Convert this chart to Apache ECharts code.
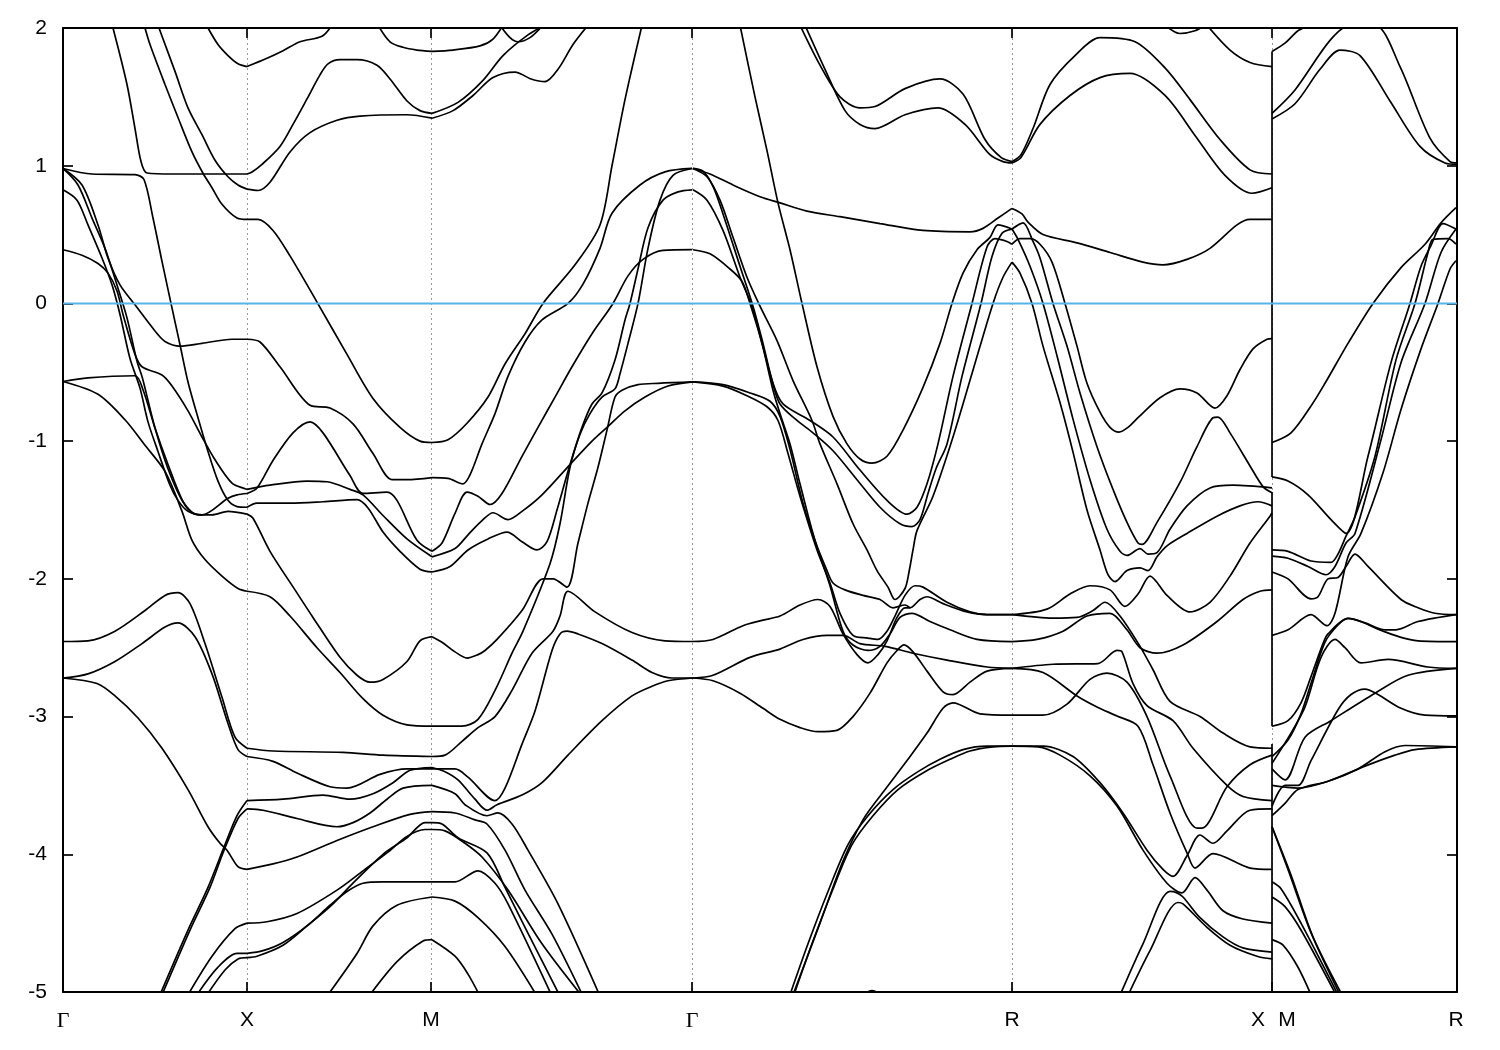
<!DOCTYPE html>
<html><head><meta charset="utf-8">
<script src="https://cdn.jsdelivr.net/npm/echarts@6/dist/echarts.min.js"></script>
<style>html,body{margin:0;background:#fff}#c{width:1500px;height:1050px}</style></head>
<body><div id="c"></div>
<script>
// each band: flat list k, E, k, E ... (k = distance along the k-path, E = energy in eV)
const tickK = [0,184,368,629,949,1209,1394];
const labelK = [0,184,368,629,949,1195,1224,1393];
const tickLabels = ['Γ','X','M','Γ','R','X','M','R'];
const yTicks = [-5,-4,-3,-2,-1,0,1,2];
const fermi = [0,0,1394,0];
const jumpA = [1209,1.83,1209,-1.26];
const jumpB = [1209,-1.37,1209,-3.07];
const jumpC = [1209,-3.2,1209,-5];

const gammaX = [
[145,2,155,1.88,165,1.8,175,1.74,184,1.72],
[50,2,64,1.59,72,1.27,78,1.03,84,.947,110,.94,184,.94],
[0,.98,29,.94,72,.935,81,.9,90,.62,99,.305,108,0,117,-.3,125,-.57,135,-.83,145,-1.075,155,-1.29,165,-1.43,174,-1.475,184,-1.48],
[82,2,87,1.88,102,1.59,115,1.35,129,1.1,140,.945,149,.84,159,.72,174,.62,184,.61],
[96,2,112,1.685,125,1.42,139,1.225,152,1.04,165,.92,175,.86,184,.83],
[0,.98,19,.86,35,.57,45,.33,57,.135,72,-.01,92,-.2,102,-.276,117,-.31,139,-.29,169,-.26,184,-.26],
[0,.39,19,.35,35,.29,45,.22,54,.09,60,-.08,72,-.37,79,-.46,99,-.52,109,-.6,125,-.78,139,-.97,152,-1.135,169,-1.305,182,-1.346,184,-1.35],
[0,.98,15,.86,29,.62,42,.4,55,.11,64,-.105,74,-.42,79,-.53,82,-.615,92,-.905,105,-1.2,120,-1.44,135,-1.535,149,-1.535,165,-1.51,184,-1.53],
[0,.825,14,.75,25,.57,39,.33,49,.135,57,-.08,67,-.4,77,-.615,85,-.86,95,-1.075,107,-1.32,115,-1.43,125,-1.51,139,-1.535,165,-1.415,174,-1.39,184,-1.38],
[0,-.567,25,-.54,72,-.525,80,-.627,92,-.905,105,-1.17,120,-1.44,129,-1.52,139,-1.535],
[0,-.567,35,-.66,62,-.845,82,-1.03,102,-1.22,119,-1.51,129,-1.72,142,-1.86,159,-1.98,175,-2.07,184,-2.09],
[0,-2.455,25,-2.45,52,-2.38,82,-2.23,102,-2.12,115,-2.1,127,-2.18,142,-2.47,159,-2.86,172,-3.15,184,-3.23],
[0,-2.72,25,-2.69,52,-2.6,79,-2.47,102,-2.35,115,-2.32,132,-2.42,149,-2.69,165,-3.05,175,-3.24,184,-3.29],
[0,-2.72,34,-2.76,52,-2.85,75,-3.01,99,-3.23,125,-3.53,145,-3.8,157,-3.92,164,-3.97,175,-4.09,184,-4.11],
[97,-5.02,125,-4.55,145,-4.24,162,-3.93,174,-3.72,184,-3.61],
[99,-5.02,127,-4.55,147,-4.24,160,-3.99,175,-3.74,184,-3.67],
[125,-5.02,149,-4.74,172,-4.54,184,-4.5],
[134,-5.02,155,-4.82,174,-4.72,184,-4.72],
[144,-5.02,162,-4.84,175,-4.76,184,-4.75]
];

const xM = [
[184,1.72,204,1.78,220,1.835,237,1.9,259,1.94,269,2.02],
[315,2.02,327,1.9,340,1.86,354,1.84,369,1.83],
[184,.94,189,.955,199,1.01,217,1.14,230,1.3,244,1.485,257,1.66,265,1.74,277,1.77,294,1.77,314,1.73,327,1.63,344,1.47,357,1.4,369,1.38],
[184,.83,195,.82,207,.88,227,1.1,247,1.24,274,1.33,297,1.36,344,1.37,369,1.345],
[184,.61,195,.61,210,.53,227,.345,254,.01,284,-.37,310,-.69,337,-.9,357,-1,369,-1.01],
[184,-.26,197,-.28,217,-.46,247,-.74,267,-.76,290,-.875,310,-1.09,329,-1.28,344,-1.28,369,-1.265],
[184,-1.38,194,-1.34,210,-1.14,230,-.94,247,-.86,260,-.94,287,-1.25,300,-1.38,324,-1.37,334,-1.43,354,-1.72,369,-1.8],
[184,-1.35,207,-1.32,244,-1.29,264,-1.295,287,-1.35,300,-1.39,320,-1.54,344,-1.71,369,-1.84],
[184,-1.48,194,-1.45,227,-1.45,260,-1.44,294,-1.425,305,-1.485,320,-1.66,337,-1.8,357,-1.93,369,-1.95],
[184,-1.53,190,-1.56,207,-1.8,232,-2.08,250,-2.28,277,-2.57,294,-2.7,307,-2.75,320,-2.73,344,-2.6,357,-2.45,369,-2.42],
[184,-2.09,207,-2.13,227,-2.27,254,-2.5,277,-2.68,300,-2.87,320,-2.99,344,-3.06,369,-3.07],
[184,-3.23,210,-3.25,280,-3.26,320,-3.28,369,-3.29],
[184,-3.29,210,-3.325,234,-3.41,267,-3.51,284,-3.52,317,-3.42,344,-3.38,369,-3.38],
[184,-3.61,220,-3.6,260,-3.57,287,-3.6,310,-3.56,330,-3.48,347,-3.39,369,-3.37],
[184,-3.67,200,-3.68,234,-3.74,274,-3.8,290,-3.77,307,-3.7,324,-3.6,340,-3.52,369,-3.5],
[184,-4.11,210,-4.07,234,-4.02,274,-3.9,310,-3.8,347,-3.71,369,-3.69],
[184,-4.5,204,-4.49,234,-4.43,274,-4.26,300,-4.12,324,-3.99,344,-3.87,362,-3.82,369,-3.82],
[184,-4.72,200,-4.7,220,-4.64,244,-4.52,267,-4.37,284,-4.27,300,-4.21,320,-4.2,369,-4.2],
[184,-4.75,194,-4.74,220,-4.66,244,-4.52,267,-4.38,290,-4.21,320,-4,344,-3.88,362,-3.77,369,-3.77],
[265,-5.02,294,-4.72,310,-4.52,334,-4.37,369,-4.31],
[307,-5.02,334,-4.78,360,-4.63,369,-4.62]
];

const mGamma = [
[369,1.83,390,1.84,417,1.87,430,1.92,440,2.02],
[437,2.02,447,1.93,455,1.9,467,1.93,480,2.02],
[369,1.38,395,1.46,420,1.62,440,1.8,465,1.95,482,2.02],
[369,1.345,390,1.4,410,1.51,430,1.64,452,1.68,468,1.63,482,1.61,495,1.7,510,1.88,525,2.02],
[369,-1.01,385,-.99,404,-.87,425,-.68,442,-.44,462,-.22,480,0,512,.28,537,.57,549,1,562,1.48,579,2.02],
[369,-1.265,385,-1.27,400,-1.31,407,-1.245,419,-1.02,432,-.8,445,-.53,462,-.28,479,-.12,505,0,520,.14,537,.4,549,.655,577,.86,602,.955,629,.98],
[369,-1.8,379,-1.74,392,-1.525,404,-1.37,415,-1.4,427,-1.46,439,-1.38,459,-1.11,475,-.9,492,-.68,509,-.46,529,-.22,550,0,565,.2,580,.32,600,.385,629,.39],
[369,-1.84,392,-1.78,405,-1.68,420,-1.57,430,-1.52,445,-1.57,459,-1.51,479,-1.39,507,-1.17,529,-1,544,-.9,562,-.78,582,-.68,605,-.6,630,-.57],
[369,-1.95,387,-1.91,405,-1.79,425,-1.71,444,-1.66,459,-1.73,474,-1.79,484,-1.73,494,-1.5,507,-1.17,519,-.9,529,-.73,539,-.65,552,-.41,562,-.12,567,0,575,.25,585,.55,600,.75,615,.81,629,.825],
[369,-3.07,399,-3.07,415,-3.02,432,-2.81,449,-2.54,460,-2.38,487,-1.89,497,-1.6,507,-1.19,517,-.95,527,-.8,539,-.68,552,-.62,557,-.51,565,-.29,575,0,585,.4,597,.75,610,.93,629,.98],
[369,-2.42,379,-2.46,392,-2.53,404,-2.575,415,-2.55,422,-2.52,434,-2.44,459,-2.23,480,-2,490,-2,504,-2.06,515,-1.74,525,-1.45,535,-1.19,544,-.92,552,-.68,559,-.63,575,-.59,595,-.58,630,-.57],
[369,-3.29,382,-3.28,399,-3.18,415,-3.08,432,-3,449,-2.81,469,-2.54,490,-2.38,497,-2.27,505,-2.09,532,-2.24,569,-2.39,602,-2.45,629,-2.455],
[369,-3.38,392,-3.38,405,-3.44,432,-3.61,442,-3.52,459,-3.2,472,-2.96,489,-2.52,497,-2.4,504,-2.38,515,-2.4,539,-2.47,569,-2.59,589,-2.68,609,-2.72,630,-2.72],
[369,-3.37,382,-3.4,395,-3.46,412,-3.6,424,-3.68,434,-3.64,459,-3.57,479,-3.48,505,-3.28,539,-3.03,569,-2.85,589,-2.78,605,-2.74,630,-2.72],
[369,-3.5,392,-3.56,402,-3.64,424,-3.72,435,-3.7,449,-3.78,465,-3.97,495,-4.36,537,-5.03],
[369,-3.69,392,-3.7,412,-3.75,424,-3.78,442,-3.97,462,-4.26,489,-4.58,520,-5.03],
[369,-3.77,379,-3.78,395,-3.88,424,-3.99,442,-4.24,462,-4.53,497,-5.03],
[369,-3.82,382,-3.83,402,-3.92,419,-4.02,445,-4.26,479,-4.65,519,-5.03],
[369,-4.2,392,-4.2,415,-4.12,432,-4.21,445,-4.36,489,-5.03],
[369,-4.31,392,-4.34,415,-4.46,442,-4.67,474,-5.03],
[369,-4.62,392,-4.74,405,-4.87,417,-5.03]
];

const gammaR = [
[677,2.02,692,1.5,704,1.11,715,.73,727,.39,739,0,754,-.46,770,-.82,784,-1.02,797,-1.13,809,-1.16,824,-1.11,840,-.92,860,-.61,877,-.29,889,0,900,.22,914,.39,927,.48,935,.57,949,.54],
[630,.98,647,.94,670,.86,697,.775,717,.73,744,.67,777,.63,817,.58,860,.53,907,.52,920,.545,935,.62,949,.69],
[630,.98,644,.92,657,.75,670,.48,684,.19,697,-.02,714,-.27,730,-.56,749,-.85,757,-1.02,774,-1.31,790,-1.6,804,-1.79,814,-1.94,825,-2.06,832,-2.15,842,-2.07,846,-1.95,850,-1.79,854,-1.65,870,-1.4,890,-.97,911,-.46,930,0,940,.19,949,.3],
[630,.98,640,.96,650,.85,660,.65,677,.27,690,-.02,700,-.29,710,-.58,720,-.73,747,-.85,770,-.97,797,-1.21,824,-1.43,844,-1.53,854,-1.48,864,-1.31,875,-1.02,890,-.53,909,0,924,.41,932,.47,944,.45,949,.43],
[630,.825,644,.75,660,.53,677,.19,689,-.02,699,-.29,709,-.56,717,-.73,734,-.85,750,-.94,770,-1.07,794,-1.28,817,-1.48,837,-1.6,849,-1.62,857,-1.57,865,-1.38,873,-1.2,884,-1.02,899,-.53,918,0,929,.34,939,.51,949,.54],
[630,.39,647,.36,667,.25,679,.16,687,0,699,-.29,710,-.63,717,-.8,727,-1.02,737,-1.31,752,-1.72,764,-1.94,770,-2.03,782,-2.08,800,-2.12,817,-2.15,830,-2.21,842,-2.19,847,-2.21],
[630,-.57,660,-.59,687,-.65,707,-.71,717,-.82,727,-1.06,740,-1.45,755,-1.79,767,-2.05,780,-2.38,790,-2.48,805,-2.52,817,-2.49,827,-2.4,837,-2.28,849,-2.25,867,-2.31,887,-2.37,914,-2.44,949,-2.456],
[630,-.57,660,-.6,684,-.67,704,-.75,715,-.85,725,-1.09,737,-1.4,754,-1.79,767,-2.03,777,-2.25,790,-2.41,805,-2.43,815,-2.44,824,-2.38,832,-2.27,842,-2.12,852,-2.05,860,-2.06,884,-2.17,907,-2.24,924,-2.26,949,-2.26],
[629,-2.455,650,-2.44,680,-2.34,700,-2.3,717,-2.27,737,-2.19,755,-2.15,767,-2.2,780,-2.4,794,-2.55,805,-2.61,815,-2.55,824,-2.45,834,-2.28,842,-2.21,847,-2.21,857,-2.15,864,-2.13,880,-2.18,904,-2.24,924,-2.26,949,-2.26],
[630,-2.72,650,-2.7,687,-2.57,717,-2.51,740,-2.44,764,-2.41,780,-2.41,797,-2.47,822,-2.49,850,-2.54,884,-2.59,924,-2.64,949,-2.65],
[630,-2.72,650,-2.74,677,-2.83,700,-2.94,717,-3.02,737,-3.08,755,-3.11,774,-3.1,790,-3,807,-2.83,824,-2.61,834,-2.52,841,-2.48,850,-2.53,864,-2.67,880,-2.82,890,-2.84,907,-2.75,924,-2.67,949,-2.65],
[730,-5.02,757,-4.5,780,-4.05,800,-3.75,820,-3.55,845,-3.31,864,-3.12,880,-2.94,890,-2.9,917,-2.98,949,-2.99],
[727,-5.02,745,-4.65,765,-4.27,785,-3.93,805,-3.72,830,-3.53,855,-3.4,877,-3.31,900,-3.24,924,-3.215,949,-3.215],
[731,-5.02,749,-4.65,769,-4.27,789,-3.93,810,-3.72,835,-3.53,862,-3.4,887,-3.31,907,-3.25,930,-3.22,949,-3.215],
[800,-5.02,809,-4.99,818,-5.02],
[737,2.02,757,1.73,777,1.5,797,1.42,812,1.43,842,1.56,877,1.63,900,1.52,922,1.19,938,1.06,949,1.03],
[742,2.02,762,1.7,782,1.4,797,1.3,812,1.27,842,1.37,875,1.42,902,1.3,927,1.08,940,1.03,949,1.02]
];

const rX = [
[949,.69,959,.65,965,.59,980,.5,1014,.44,1047,.37,1080,.3,1100,.28,1124,.32,1147,.4,1174,.57,1187,.61,1209,.61],
[949,.3,957,.22,969,0,980,-.31,997,-.72,1010,-1.08,1024,-1.5,1037,-1.79,1045,-1.97,1052,-2.02,1064,-1.94,1077,-1.92,1085,-1.94,1094,-1.84,1104,-1.76,1124,-1.67,1154,-1.545,1177,-1.47,1195,-1.44,1209,-1.47],
[949,.54,955,.465,967,.27,980,0,994,-.38,1010,-.84,1027,-1.28,1044,-1.64,1057,-1.8,1064,-1.83,1077,-1.78,1085,-1.82,1094,-1.81,1107,-1.64,1124,-1.47,1147,-1.34,1170,-1.32,1209,-1.34],
[949,.54,960,.585,970,.45,977,.33,990,0,1004,-.31,1017,-.65,1034,-1.04,1050,-1.35,1064,-1.59,1075,-1.74,1079,-1.75,1094,-1.59,1117,-1.3,1134,-1.04,1150,-.83,1155,-.825,1167,-.94,1187,-1.18,1200,-1.33,1209,-1.375],
[949,.43,957,.47,967,.47,977,.43,989,.3,1002,0,1014,-.31,1024,-.58,1037,-.79,1047,-.9,1056,-.935,1065,-.9,1075,-.83,1097,-.685,1117,-.62,1134,-.65,1152,-.76,1164,-.67,1177,-.48,1190,-.33,1204,-.26,1209,-.255],
[949,-2.26,984,-2.22,1007,-2.11,1027,-2.05,1047,-2.08,1062,-2.2,1075,-2.11,1087,-1.98,1104,-2.12,1127,-2.24,1147,-2.17,1167,-1.98,1187,-1.74,1207,-1.545,1209,-1.52],
[949,-2.26,990,-2.285,1014,-2.28,1030,-2.23,1042,-2.17,1057,-2.27,1077,-2.49,1090,-2.66,1107,-2.89,1137,-3,1160,-3.12,1187,-3.22,1209,-3.23],
[949,-2.456,974,-2.44,1000,-2.38,1024,-2.27,1047,-2.25,1064,-2.37,1077,-2.5,1094,-2.54,1120,-2.48,1154,-2.31,1180,-2.15,1197,-2.09,1209,-2.08],
[949,-2.65,990,-2.62,1035,-2.615,1054,-2.52,1059,-2.53,1070,-2.76,1084,-2.92,1110,-3.03,1130,-3.23,1164,-3.5,1180,-3.58,1209,-3.61],
[949,-2.65,980,-2.68,1014,-2.85,1034,-2.93,1054,-2.996,1075,-3.07,1090,-3.35,1107,-3.7,1124,-3.99,1132,-4.1,1150,-3.995,1187,-4.1,1209,-4.11],
[949,-2.99,980,-2.99,1004,-2.91,1027,-2.73,1044,-2.685,1064,-2.75,1084,-3,1107,-3.43,1134,-3.81,1139,-3.81,1164,-3.51,1187,-3.35,1209,-3.28],
[949,-3.215,980,-3.215,1010,-3.29,1037,-3.48,1060,-3.7,1084,-3.97,1100,-4.11,1110,-4.16,1124,-4.01,1137,-3.86,1150,-3.92,1164,-3.83,1187,-3.68,1209,-3.67],
[949,-3.215,975,-3.22,997,-3.28,1027,-3.43,1054,-3.65,1080,-3.97,1104,-4.21,1119,-4.28,1132,-4.17,1144,-4.26,1160,-4.41,1180,-4.47,1209,-4.5],
[1056,-5.04,1080,-4.65,1107,-4.27,1114,-4.28,1120,-4.31,1137,-4.46,1160,-4.6,1180,-4.68,1209,-4.71],
[1064,-5.04,1087,-4.7,1115,-4.35,1120,-4.36,1144,-4.53,1167,-4.66,1194,-4.74,1209,-4.76],
[949,1.03,958,1.08,970,1.27,987,1.59,1012,1.8,1037,1.93,1072,1.9,1102,1.71,1127,1.48,1157,1.19,1187,.97,1209,.94],
[949,1.02,958,1.06,977,1.3,1007,1.51,1037,1.64,1067,1.67,1102,1.51,1132,1.22,1162,.93,1189,.8,1209,.84],
[1102,2.02,1117,1.96,1132,1.98,1142,2.02],
[1144,2.02,1167,1.84,1187,1.75,1209,1.72]
];

const mR = [
[1209,1.83,1222,1.89,1235,1.98,1247,2.02],
[1209,1.38,1232,1.55,1267,1.91,1287,2.02,1312,2.02,1337,1.72,1367,1.2,1387,1.03,1394,1.02],
[1209,1.34,1232,1.45,1257,1.7,1277,1.84,1297,1.8,1327,1.47,1357,1.14,1382,1.02,1394,1.01],
[1209,-1.01,1228,-.94,1248,-.745,1262,-.58,1285,-.29,1310,0,1338,.26,1362,.43,1378,.585,1393,.695],
[1209,-1.26,1225,-1.29,1245,-1.39,1268,-1.57,1283,-1.67,1305,-1.11,1328,-.43,1347,0,1358,.27,1368,.42,1380,.58,1393,.54],
[1209,-1.79,1225,-1.8,1248,-1.87,1268,-1.88,1275,-1.82,1283,-1.69,1292,-1.55,1312,-1.11,1333,-.41,1352,0,1365,.37,1370,.465,1385,.47,1393,.43],
[1209,-1.835,1225,-1.85,1245,-1.91,1263,-1.97,1272,-1.91,1283,-1.74,1292,-1.67,1318,-.99,1338,-.43,1362,0,1378,.37,1393,.54],
[1209,-2.41,1225,-2.37,1248,-2.26,1264,-2.34,1272,-2.25,1285,-1.84,1298,-1.67,1320,-1.23,1338,-.77,1358,-.33,1375,0,1387,.25,1393,.31],
[1209,-1.95,1225,-2,1248,-2.145,1255,-2.13,1265,-2,1275,-1.99,1283,-1.91,1292,-1.82,1305,-1.91,1338,-2.15,1355,-2.21,1372,-2.25,1393,-2.26],
[1209,-3.07,1225,-3.03,1238,-2.9,1248,-2.71,1260,-2.47,1265,-2.4,1285,-2.287,1298,-2.31,1315,-2.365,1338,-2.425,1355,-2.45,1393,-2.456],
[1209,-3.29,1225,-3.17,1238,-2.98,1248,-2.76,1262,-2.46,1275,-2.335,1285,-2.287,1302,-2.32,1322,-2.37,1333,-2.37,1355,-2.31,1393,-2.26],
[1209,-3.34,1228,-3.12,1242,-2.93,1258,-2.57,1272,-2.44,1282,-2.5,1298,-2.61,1325,-2.585,1365,-2.64,1393,-2.65],
[1209,-3.38,1222,-3.46,1242,-3.15,1268,-3.03,1312,-2.83,1345,-2.7,1393,-2.65],
[1209,-3.65,1222,-3.5,1235,-3.5,1248,-3.32,1275,-2.95,1288,-2.84,1302,-2.8,1315,-2.84,1338,-2.94,1362,-2.99,1393,-2.995],
[1209,-3.5,1235,-3.52,1265,-3.47,1295,-3.38,1322,-3.255,1342,-3.21,1393,-3.22],
[1209,-3.72,1222,-3.63,1235,-3.53,1265,-3.47,1302,-3.36,1332,-3.28,1352,-3.24,1393,-3.22],
[1209,-3.8,1225,-4.11,1248,-4.57,1277,-5.02],
[1209,-3.8,1228,-4.15,1250,-4.6,1279,-5.02],
[1209,-4.2,1218,-4.25,1238,-4.5,1275,-5.02],
[1209,-4.31,1222,-4.38,1238,-4.55,1273,-5.02],
[1209,-4.62,1220,-4.66,1235,-4.82,1248,-5.02]
];

const pairs = a => { const o=[]; for(let i=0;i<a.length;i+=2) o.push([a[i],a[i+1]]); return o; };
const bandSeries = [...gammaX,...xM,...mGamma,...gammaR,...rX,...mR].map(b => ({
  type:'line', data:pairs(b), smooth:0.3, showSymbol:false, silent:true,
  lineStyle:{color:'#000',width:1.7}
}));
const straight = (a,color,w) => ({type:'line',data:pairs(a),showSymbol:false,silent:true,lineStyle:{color,width:w}});
const series = [...bandSeries, straight(jumpA,'#000',1.7), straight(jumpB,'#000',1.7), straight(jumpC,'#000',1.7), straight(fermi,'#56B4E9',2)];

const axisLine = {show:true,onZero:false,lineStyle:{color:'#000',width:2}};
const tick = {show:true,inside:true,length:10,lineStyle:{color:'#000',width:1.7}};
const chart = echarts.init(document.getElementById('c'),null,{renderer:'canvas'});
chart.setOption({
  animation:false, backgroundColor:'#fff',
  grid:{left:63,right:43,top:28,bottom:58},
  xAxis:[{
    type:'value',min:0,max:1394,axisLine,
    axisTick:{...tick,customValues:tickK},
    axisLabel:{show:true,customValues:labelK,margin:18,fontSize:21,color:'#000',fontFamily:'Liberation Sans',
      formatter:(v)=>{const t=tickLabels[labelK.indexOf(v)];return t==='Γ'?'{g|Γ}':t;},
      rich:{g:{fontFamily:'Liberation Serif',fontSize:22,color:'#000'}}},
    splitLine:{show:true,lineStyle:{color:'#999',type:[2,3],width:1}}
  },{
    type:'value',position:'top',min:0,max:1394,axisLine,
    axisTick:{...tick,customValues:tickK},axisLabel:{show:false},splitLine:{show:false}
  }],
  yAxis:[{
    type:'value',min:-5,max:2,interval:1,axisLine,axisTick:tick,
    axisLabel:{fontSize:21,color:'#000',margin:16,fontFamily:'Liberation Sans'},
    splitLine:{show:false}
  },{
    type:'value',position:'right',min:-5,max:2,interval:1,axisLine,axisTick:tick,
    axisLabel:{show:false},splitLine:{show:false}
  }],
  series
});
</script></body></html>
